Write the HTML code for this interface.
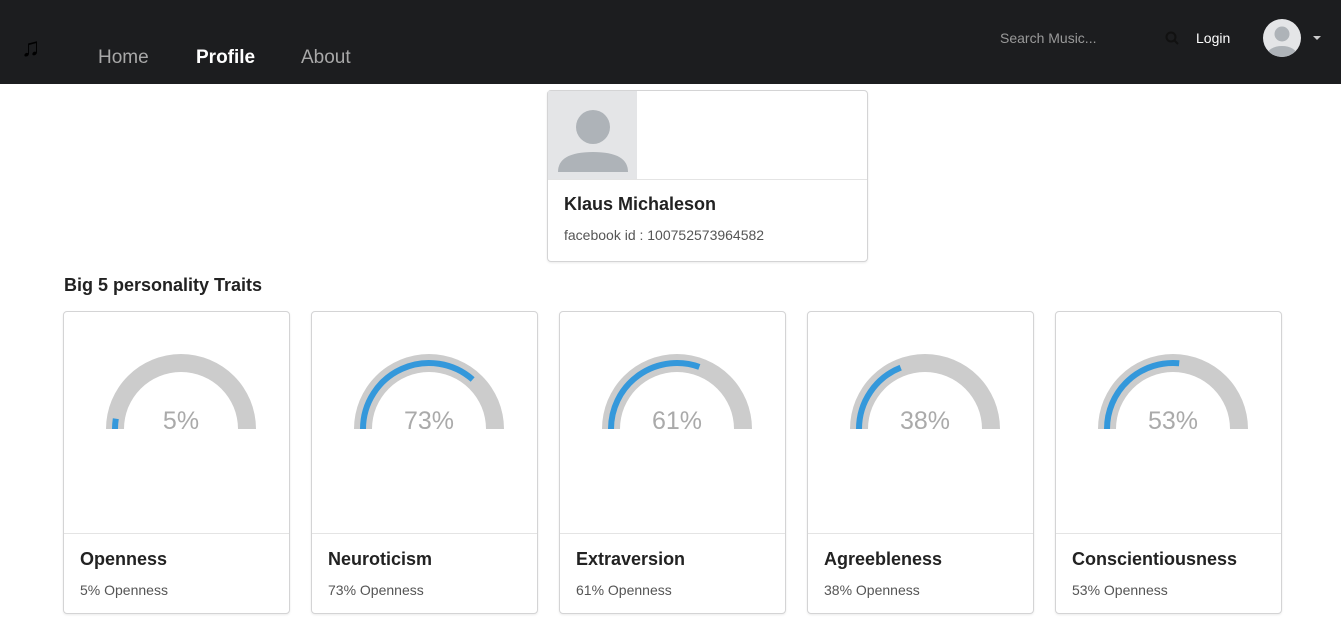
<!DOCTYPE html>
<html><head><meta charset="utf-8">
<style>
*{box-sizing:border-box;margin:0;padding:0}
body{width:1341px;height:638px;background:#fff;font-family:"Liberation Sans",sans-serif;position:relative;overflow:hidden;color:#222}
.nav{position:absolute;left:0;top:0;width:1341px;height:84px;background:#1c1d1f}
.nav a{position:absolute;font-size:19px;color:#a8a8a8;text-decoration:none;top:47px}
.card{position:absolute;border:1px solid #d4d4d5;border-radius:4px;background:#fff;box-shadow:0 1px 2px rgba(0,0,0,.08)}
.title{font-weight:bold;font-size:18px;color:#222;position:absolute}
.sub{font-size:14px;color:#555;position:absolute}
</style></head><body>
<div class="nav">
  <div style="position:absolute;left:21px;top:34px;font-size:26px;font-weight:bold;color:#000;line-height:1">♫</div>
  <a style="left:98px">Home</a>
  <a style="left:196px;color:#fff;font-weight:bold">Profile</a>
  <a style="left:301px">About</a>
  <div style="position:absolute;left:1000px;top:30px;font-size:14px;color:#999">Search Music...</div>
  <svg style="position:absolute;left:1165px;top:31px" width="14" height="14"><circle cx="6" cy="6" r="4.5" fill="none" stroke="#111" stroke-width="2"/><line x1="9" y1="9" x2="13" y2="13" stroke="#111" stroke-width="2"/></svg>
  <div style="position:absolute;left:1196px;top:30px;font-size:14px;color:#fff">Login</div>
  <svg style="position:absolute;left:1263px;top:19px" width="38" height="38"><clipPath id="cp"><circle cx="19" cy="19" r="19"/></clipPath><g clip-path="url(#cp)"><rect width="38" height="38" fill="#e4e5e7"/><circle cx="19" cy="15" r="7.5" fill="#aeb3b8"/><ellipse cx="19" cy="36" rx="15" ry="9" fill="#aeb3b8"/></g></svg>
  <div style="position:absolute;left:1313px;top:36px;width:0;height:0;border-left:4px solid transparent;border-right:4px solid transparent;border-top:4px solid #ccc"></div>
</div>

<div class="card" style="left:547px;top:90px;width:321px;height:172px">
  <svg style="position:absolute;left:0;top:0" width="89" height="89"><rect width="89" height="89" fill="#e4e5e7"/><circle cx="45" cy="36" r="17" fill="#aeb3b8"/><path d="M10 81 Q10 61 45 61 Q80 61 80 81Z" fill="#aeb3b8"/></svg>
  <div style="position:absolute;left:0;top:88px;width:319px;border-top:1px solid #e4e4e4"></div>
  <div class="title" style="left:16px;top:103px">Klaus Michaleson</div>
  <div class="sub" style="left:16px;top:136px">facebook id : 100752573964582</div>
</div>

<div style="position:absolute;left:64px;top:275px;font-size:18px;font-weight:bold;color:#222">Big 5 personality Traits</div>
<div id="cards"></div>

<script>
const traits = ["Openness","Neuroticism","Extraversion","Agreebleness","Conscientiousness"];
const values = [5,73,61,38,53];
const container = document.getElementById('cards');
function pt(cx,cy,r,frac){const a=Math.PI*(1-frac);return [cx+r*Math.cos(a),cy-r*Math.sin(a)];}
traits.forEach((t,i)=>{
  const left=63+i*248;
  const c=document.createElement('div');
  c.className='card';
  
  
  c.style.cssText=`left:${left}px;top:311px;width:227px;height:303px`;
  const v=values[i];
  const cx=117, cy=117, rO=75, rI=57, rb=66;
  const [ex,ey]=pt(cx,cy,rb,v/100);
  c.innerHTML=`<svg width="225" height="222" style="position:absolute;left:0;top:0">
    <path d="M${cx-rO} ${cy} A${rO} ${rO} 0 0 1 ${cx+rO} ${cy} L${cx+rI} ${cy} A${rI} ${rI} 0 0 0 ${cx-rI} ${cy}Z" fill="#cccccc"/>
    <path class="gauge-value" d="M${cx-rb} ${cy} A${rb} ${rb} 0 0 1 ${ex.toFixed(2)} ${ey.toFixed(2)}" fill="none" stroke="#3498db" stroke-width="6"/>
    <text x="${cx}" y="${cy}" text-anchor="middle" font-family="Liberation Sans, sans-serif" font-size="25" fill="#aaa">${v}%</text>
  </svg>
  <div style="position:absolute;left:0;top:221px;width:225px;border-top:1px solid #e4e4e4"></div>
  <div class="title" style="left:16px;top:237px">${t}</div>
  <div class="sub" style="left:16px;top:270px">${v}% Openness</div>`;
  const svg=c.querySelector('svg');
  
  
  const ti=c.querySelector('.title');
  
  
  const su=c.querySelector('.sub');
  
  
  container.appendChild(c);
});
</script>
</body></html>
